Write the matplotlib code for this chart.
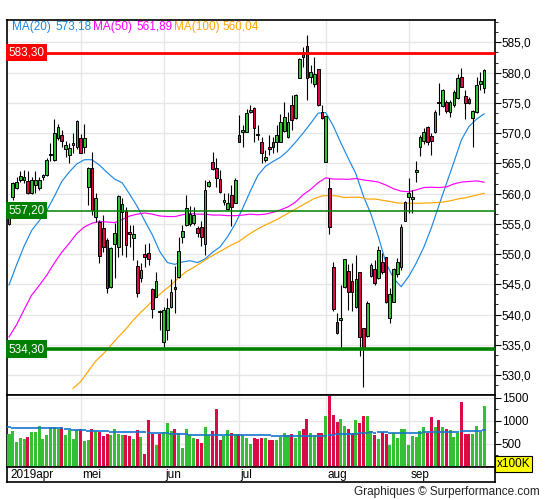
import numpy as np
import matplotlib
matplotlib.use("Agg")
import matplotlib.pyplot as plt
import matplotlib.transforms as mtrans
from matplotlib.ticker import MultipleLocator, FuncFormatter

plt.rcParams['font.family'] = ['Liberation Sans', 'DejaVu Sans']

# daily candles, 2 apr .. 30 sep 2019 (index = trading day)
opens = [554.96, 559.48, 560.86, 562.24, 562.24, 562.13, 560.14, 561.36, 560.86, 562.68,
         563.06, 566.31, 565.54, 569.12, 569.67, 567.31, 566.37, 568.02, 567.75, 569.12,
         567.75, 561.14, 564.17, 556.18, 555.35, 554.25, 552.30, 544.61, 551.66, 551.22,
         557.00, 557.11, 553.70, 552.60, 548.02, 545.98, 550.01, 550.12, 544.22, 542.95,
         540.58, 535.52, 537.44, 541.19, 544.50, 546.15, 552.76, 554.80, 554.91, 555.07,
         554.25, 554.47, 551.66, 561.25, 565.16, 564.17, 562.40, 558.66, 557.39, 559.76,
         558.49, 569.68, 570.23, 570.23, 573.53, 574.08, 569.90, 568.47, 565.55, 567.75,
         568.58, 568.58, 568.58, 570.34, 569.40, 574.64, 572.43, 579.16, 583.45, 584.39,
         579.32, 578.05, 580.53, 573.42, 565.27, 560.86, 547.80, 538.82, 539.10, 544.50,
         547.25, 545.55, 541.30, 546.98, 537.72, 536.46, 546.43, 547.47, 545.99, 548.74,
         549.46, 539.37, 542.13, 546.65, 547.80, 555.52, 559.49, 559.10, 563.60, 567.75,
         568.74, 570.95, 569.52, 570.23, 575.19, 574.47, 575.19, 573.54, 574.64, 575.74,
         579.32, 576.18, 575.58, 572.43, 573.54, 578.06, 577.40]
highs = [556.45, 561.96, 562.79, 563.72, 563.89, 563.78, 562.79, 563.72, 562.68, 563.30,
         565.82, 568.30, 572.32, 571.44, 570.50, 568.74, 568.41, 569.95, 572.10, 569.84,
         571.49, 564.44, 566.81, 560.03, 555.63, 556.45, 552.60, 551.22, 555.07, 559.76,
         559.21, 557.83, 554.80, 554.80, 549.01, 548.46, 551.66, 551.77, 544.33, 546.97,
         540.75, 541.19, 542.68, 545.87, 548.08, 552.87, 554.80, 559.76, 557.94, 557.83,
         554.63, 555.52, 562.24, 562.24, 566.92, 565.82, 563.89, 560.03, 560.03, 561.41,
         562.51, 572.98, 571.33, 573.98, 574.64, 574.36, 571.33, 569.40, 567.20, 569.68,
         569.40, 571.33, 573.09, 575.08, 573.42, 576.29, 576.40, 582.35, 584.28, 586.21,
         581.25, 582.52, 580.60, 574.64, 572.87, 562.63, 548.63, 540.20, 544.89, 549.20,
         548.36, 548.47, 549.84, 547.00, 537.80, 542.24, 548.58, 549.02, 551.28, 550.12,
         549.57, 544.33, 547.64, 549.29, 554.90, 558.76, 562.52, 560.60, 565.38, 569.68,
         570.78, 571.17, 569.96, 573.81, 578.22, 577.23, 575.47, 575.47, 577.12, 579.76,
         580.70, 577.12, 576.00, 573.81, 579.32, 580.15, 580.59]
lows = [554.80, 558.93, 560.69, 561.96, 561.69, 559.92, 559.92, 560.03, 560.58, 562.20,
        562.90, 565.43, 565.43, 568.85, 567.75, 566.09, 564.99, 566.64, 567.31, 566.64,
        566.75, 558.10, 556.45, 555.35, 548.57, 550.39, 543.61, 544.44, 545.98, 549.56,
        549.84, 549.56, 551.22, 549.01, 542.95, 545.43, 547.91, 548.19, 539.37, 542.84,
        537.44, 534.30, 535.79, 541.02, 540.20, 546.09, 551.77, 554.63, 554.63, 554.80,
        552.87, 551.38, 549.84, 561.03, 563.89, 561.14, 560.14, 558.10, 557.28, 554.63,
        558.38, 568.47, 567.75, 570.12, 573.26, 568.58, 568.85, 565.00, 565.27, 566.37,
        566.65, 566.92, 568.47, 570.23, 569.13, 570.50, 572.30, 579.05, 580.97, 575.46,
        578.22, 577.67, 574.53, 572.32, 565.20, 553.26, 540.59, 536.79, 534.53, 544.33,
        540.75, 540.59, 541.14, 533.15, 527.97, 536.35, 546.15, 544.89, 545.88, 546.65,
        541.85, 538.55, 542.02, 546.26, 547.40, 555.40, 556.73, 556.73, 561.97, 566.21,
        568.19, 568.03, 566.37, 569.96, 572.99, 574.25, 573.37, 572.71, 574.36, 575.58,
        577.56, 572.27, 574.80, 567.64, 573.37, 577.12, 576.68]
closes = [556.29, 561.69, 561.96, 562.90, 562.68, 560.03, 562.24, 562.24, 562.24, 563.01,
          565.54, 566.53, 569.95, 570.94, 568.74, 568.02, 567.47, 568.41, 572.04, 566.75,
          569.12, 564.17, 557.28, 559.21, 549.73, 551.22, 544.33, 550.94, 553.42, 559.59,
          558.27, 551.50, 553.31, 553.31, 543.61, 547.36, 549.45, 549.18, 540.91, 545.54,
          540.42, 540.75, 541.08, 543.67, 544.30, 550.50, 553.81, 557.55, 556.56, 556.40,
          553.53, 552.76, 560.58, 561.96, 564.00, 562.51, 560.31, 558.93, 558.49, 557.83,
          562.24, 568.58, 570.45, 573.26, 573.81, 570.78, 569.68, 566.65, 565.99, 567.36,
          567.75, 569.68, 571.88, 572.71, 571.88, 572.16, 576.29, 582.24, 582.62, 579.05,
          580.15, 579.71, 574.64, 572.43, 572.82, 554.53, 540.86, 536.90, 539.37, 549.13,
          543.78, 543.78, 545.82, 536.35, 534.42, 541.85, 548.19, 545.16, 550.61, 546.98,
          542.02, 543.34, 547.53, 548.63, 554.50, 558.66, 560.04, 559.40, 563.90, 569.41,
          570.23, 568.58, 568.74, 573.54, 575.02, 577.12, 573.65, 575.19, 576.84, 579.16,
          577.67, 574.92, 575.02, 573.70, 577.95, 578.61, 580.42]
volume = [706, 770, 534, 620, 599, 641, 749, 749, 899, 599,
          684, 877, 856, 813, 856, 684, 791, 599, 791, 813,
          556, 577, 834, 770, 749, 663, 706, 684, 834, 706,
          684, 684, 663, 599, 791, 641, 277, 1027, 706, 470,
          706, 749, 963, 770, 813, 727, 406, 813, 684, 620,
          599, 513, 877, 684, 770, 1263, 577, 663, 791, 727,
          706, 706, 684, 620, 491, 620, 599, 620, 620, 577,
          577, 577, 641, 727, 684, 706, 620, 770, 813, 1049,
          727, 684, 727, 727, 1113, 1545, 1134, 984, 1049, 899,
          834, 727, 1027, 963, 1113, 1113, 770, 684, 599, 749,
          706, 470, 727, 620, 834, 813, 470, 663, 641, 770,
          856, 727, 1091, 877, 1027, 856, 813, 791, 641, 727,
          1413, 706, 706, 706, 899, 749, 1327]

# moving averages
ma20_x = [0, 2, 4, 6, 8, 10, 12, 14, 16, 18, 20, 22, 24, 26, 28, 30, 32, 34, 36, 38,
          40, 42, 44, 46, 48, 50, 52, 54, 56, 58, 60, 62, 64, 66, 68, 70, 72, 74, 76, 78,
          80, 82, 84, 86, 88, 90, 92, 94, 96, 98, 100, 102, 104, 106, 108, 110, 112, 114,
          116, 118, 120, 122, 124, 126]
ma20_y = [544.9, 548.2, 551.3, 553.9, 555.5, 557.2, 559.5, 562.0, 563.6, 564.9,
          565.6, 565.6, 564.7, 563.5, 562.4, 561.8, 559.9, 557.9, 555.5, 553.2,
          550.4, 548.6, 548.3, 548.7, 548.9, 548.6, 549.2, 550.3, 551.2, 552.9,
          555.0, 557.6, 560.4, 563.0, 564.5, 565.3, 566.0, 567.1, 568.5, 570.0,
          571.6, 573.3, 573.4, 571.2, 568.4, 565.8, 563.3, 559.6, 556.6, 552.8,
          548.5, 546.0, 544.6, 546.3, 548.5, 551.1, 554.3, 558.0, 561.6, 565.2,
          568.9, 571.1, 572.3, 573.18]
ma50_x = ma20_x
ma50_y = [536.3, 538.3, 540.8, 543.2, 544.8, 546.5, 548.5, 550.3, 551.8, 553.4,
          554.5, 555.1, 555.4, 555.3, 555.2, 555.7, 556.3, 556.6, 556.8, 556.6,
          556.3, 556.2, 556.2, 556.5, 556.7, 556.6, 556.6, 556.45, 556.45, 556.35,
          556.35, 556.45, 556.6, 556.5, 556.6, 556.9, 557.3, 557.8, 558.6, 559.8,
          560.7, 561.8, 562.6, 562.4, 562.4, 562.35, 562.5, 562.25, 562.1, 561.9,
          561.4, 560.8, 560.4, 560.3, 560.6, 561.0, 561.05, 561.0, 561.1, 561.6,
          561.9, 562.0, 562.1, 561.89]
ma100_x = [17, 19, 21, 23, 25, 27, 29, 31, 33, 35, 37, 39, 41, 43, 45, 47, 49, 51, 53,
           55, 57, 59, 61, 63, 65, 67, 69, 71, 73, 75, 77, 79, 81, 83, 85, 87, 89, 91,
           93, 95, 97, 99, 101, 103, 105, 107, 109, 111, 113, 115, 117, 119, 121, 123,
           125, 126]
ma100_y = [527.8, 528.9, 530.6, 532.3, 533.5, 534.9, 536.3, 537.6, 539.1, 540.4,
           541.6, 542.8, 543.9, 544.9, 546.1, 547.1, 547.8, 548.6, 549.4, 550.1,
           550.8, 551.5, 552.1, 553.0, 553.8, 554.5, 555.1, 555.7, 556.4, 557.1,
           557.8, 558.5, 559.2, 559.6, 559.7, 559.6, 559.35, 559.4, 559.4, 559.1,
           559.1, 558.9, 558.7, 558.45, 558.4, 558.4, 558.4, 558.45, 558.5, 558.6,
           558.8, 559.1, 559.3, 559.6, 559.9, 560.04]

# volume average (drawn in steps)
vma_start = [0, 1, 15, 17, 21, 27, 37, 43, 48, 70, 85, 87, 93, 96, 97, 98, 101, 110, 120, 126]
vma_end = [1, 15, 17, 21, 27, 37, 43, 48, 70, 85, 87, 93, 96, 97, 98, 101, 110, 120, 126, 127]
vma_val = [871, 850, 828, 807, 785, 764, 742, 721, 700, 678, 700, 721, 742, 764, 742,
           764, 742, 764, 785, 807]

levels = [583.30, 557.20, 534.30]
level_colors = ['#ff0000', '#008000', '#008000']
level_widths = [2.0, 1.1, 2.6]

months = ['2019apr', 'mei', 'jun', 'jul', 'aug', 'sep']
month_start = [0, 19, 41, 61, 84, 106]

legend = [('MA(20)', '573,18', '#1e88e5'), ('MA(50)', '561,89', '#ff00ff'),
          ('MA(100)', '560,04', '#ffa500')]

GREEN = '#34c034'
RED = '#dc0a46'
GRID = '#e6e6e6'

W, H = 545, 500
fig = plt.figure(figsize=(W / 100, H / 100), dpi=100)


def box(x0, y0, x1, y1):
    return [x0 / W, 1 - y1 / H, (x1 - x0) / W, (y1 - y0) / H]


ax = fig.add_axes(box(7, 20, 495, 395))
axv = fig.add_axes(box(7, 395, 495, 467))
axs = fig.add_axes(box(7, 467, 495, 482))

x = np.arange(len(closes))
o = np.array(opens)
c = np.array(closes)
up = c >= o
cols = np.where(up, GREEN, RED)

xlim = (-0.53, 128.9)

# price panel
ax.vlines(x, lows, highs, color='black', lw=0.8, zorder=4)
ax.bar(x, np.maximum(np.abs(c - o), 0.15), bottom=np.minimum(o, c), width=0.72,
       color=cols, edgecolor='black', linewidth=0.7, zorder=5)
ax.plot(ma20_x, ma20_y, color=legend[0][2], lw=0.85, zorder=3)
ax.plot(ma50_x, ma50_y, color=legend[1][2], lw=0.85, zorder=3)
ax.plot(ma100_x, ma100_y, color=legend[2][2], lw=0.85, zorder=3)

trans = mtrans.blended_transform_factory(ax.transAxes, ax.transData)
for lv, lc, lw in zip(levels, level_colors, level_widths):
    ax.axhline(lv, color=lc, lw=lw, zorder=6)
    ax.text(0.003, lv, f'{lv:.2f}'.replace('.', ','), transform=trans, ha='left',
            va='center', color='white', fontsize=8.5, zorder=7,
            bbox=dict(boxstyle='square,pad=0.22', fc=lc, ec='none'))

ax.set_xlim(*xlim)
ax.set_ylim(526.7, 588.7)
ax.yaxis.tick_right()
ax.set_yticks(np.arange(530, 590, 5))
ax.yaxis.set_minor_locator(MultipleLocator(5 / 3))
ax.yaxis.set_major_formatter(FuncFormatter(lambda v, p: f'{v:.1f}'.replace('.', ',')))
ax.set_xticks(month_start[1:])
ax.tick_params(axis='x', length=0, labelbottom=False)
ax.tick_params(axis='y', which='major', direction='out', length=4, labelsize=8.5, pad=1)
ax.tick_params(axis='y', which='minor', direction='out', length=2.5)
ax.grid(True, color=GRID, lw=1, zorder=0)
ax.set_axisbelow(True)

lx = [12, 55, 93, 136, 174, 222]
k = 0
for name, val, col in legend:
    for t in (name, val):
        ax.text((lx[k] - 7) / 488, 0.982, t, transform=ax.transAxes, color=col,
                fontsize=8.5, ha='left', va='center', zorder=8)
        k += 1

# volume panel
axv.bar(x, volume, width=0.8, color=cols, zorder=3)
for s, e, v in zip(vma_start, vma_end, vma_val):
    axv.hlines(v, s - 0.45, e - 0.55, color='#1874cd', lw=1.2, zorder=4)
axv.set_xlim(*xlim)
axv.set_ylim(0, 1560)
axv.yaxis.tick_right()
axv.set_yticks([500, 1000, 1500])
axv.yaxis.set_minor_locator(MultipleLocator(250))
axv.set_xticks(month_start[1:])
axv.tick_params(axis='x', length=0, labelbottom=False)
axv.tick_params(axis='y', which='major', direction='out', length=4, labelsize=8.5, pad=1)
axv.tick_params(axis='y', which='minor', direction='out', length=2.5)
axv.grid(True, color=GRID, lw=1, zorder=0)
axv.set_axisbelow(True)

# month label strip
axs.set_xlim(*xlim)
axs.set_ylim(0, 1)
axs.set_xticks([])
axs.set_yticks([])
for m, s in zip(months, month_start):
    axs.text(s + 0.4, 0.45, m, fontsize=8.5, ha='left', va='center')

for a in (ax, axv, axs):
    for sp in a.spines.values():
        sp.set_color('black')
        sp.set_linewidth(1.2)

fig.text(497 / W, 1 - 464 / H, 'x100K', fontsize=8.5, ha='left', va='center',
         bbox=dict(boxstyle='square,pad=0.15', fc='#ffff00', ec='black', lw=0.8))
fig.text(540 / W, 1 - 492 / H, 'Graphiques \u00a9 Surperformance.com', fontsize=8.5,
         ha='right', va='center', color='#222222')

fig.savefig('out.png', dpi=100)
